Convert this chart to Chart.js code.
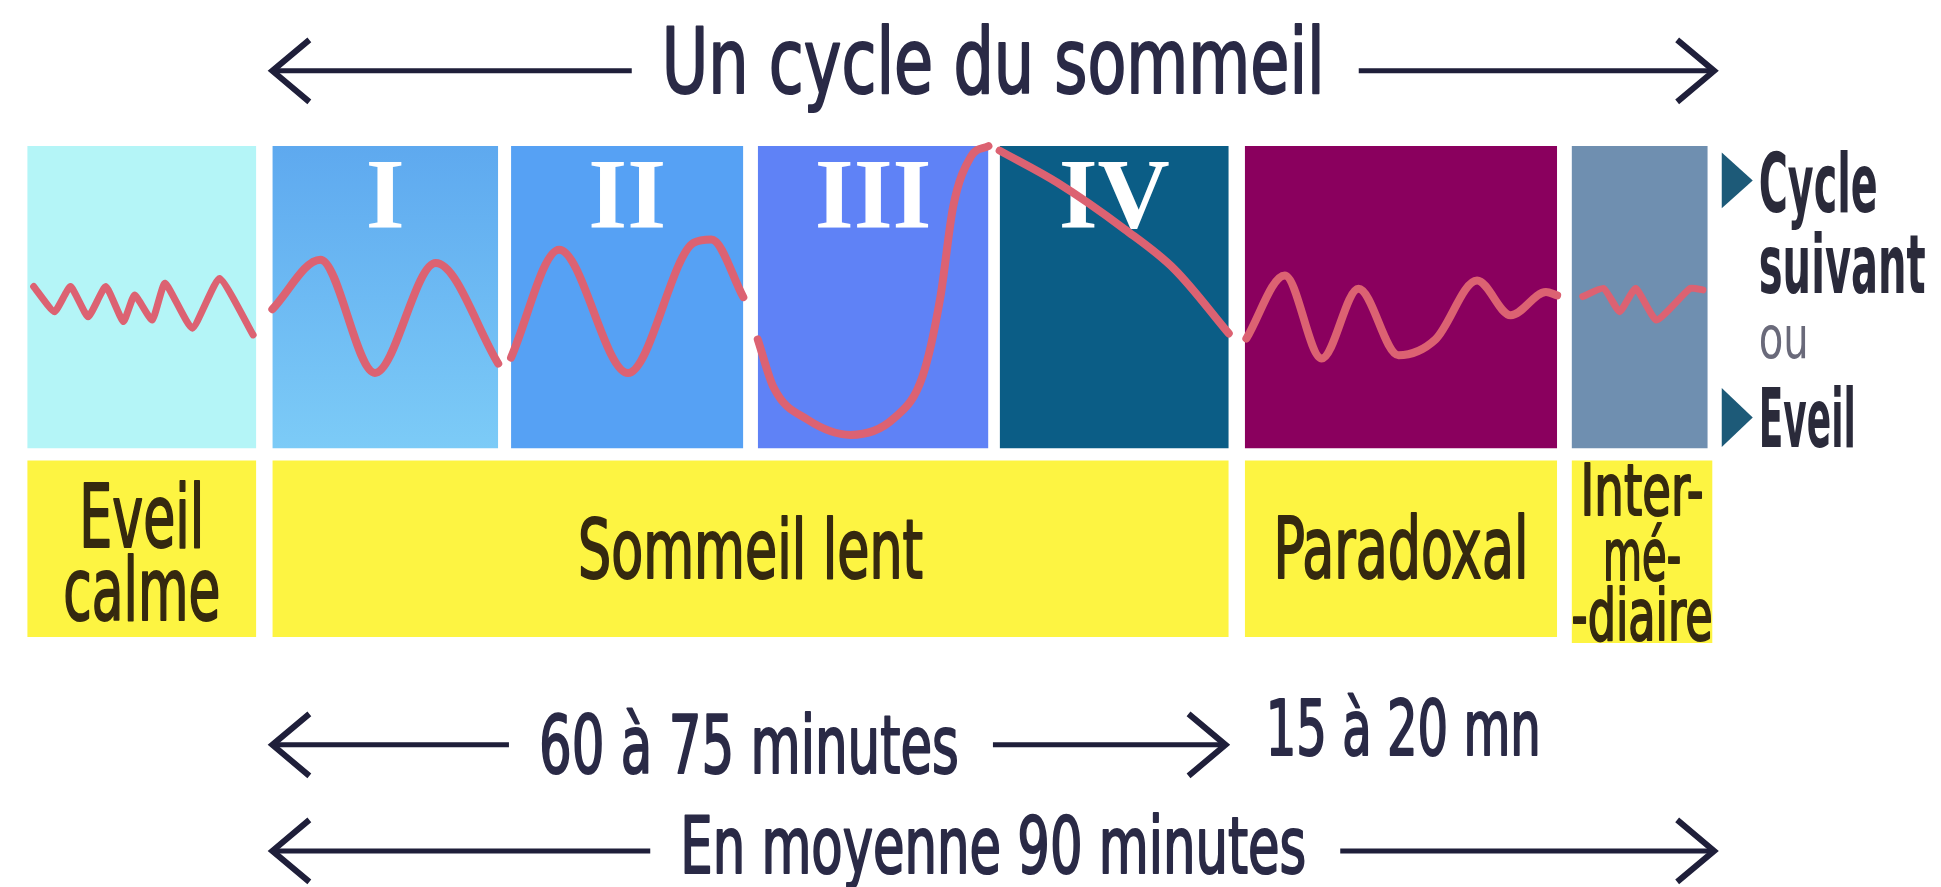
<!DOCTYPE html>
<html>
<head>
<meta charset="utf-8">
<script src="https://cdn.jsdelivr.net/npm/chart.js@4.4.1/dist/chart.umd.min.js"></script>
<style>
  html, body { margin: 0; padding: 0; background: #fff; }
  #wrap { width: 1941px; height: 887px; }
</style>
</head>
<body>
<div id="wrap"><canvas id="chart"></canvas></div>
<script>
// x = minutes (0 = start of the cycle), y = wave amplitude (0..100 inside the panels)
const stageNames = ['Eveil', 'I', 'II', 'III', 'IV', 'Paradoxal', 'Intermédiaire'];
const stageStart = [-15.3, 0, 14.9, 30.3, 45.4, 60.7, 81.1];
const stageEnd = [-1.0, 14.1, 29.4, 44.7, 59.7, 80.2, 89.6];
const stageNumerals = ['', 'I', 'II', 'III', 'IV', '', ''];

const phaseLabels = [['Eveil', 'calme'], ['Sommeil lent'], ['Paradoxal'], ['Inter-', 'mé-', '-diaire']];
const phaseStart = [-15.3, 0, 60.7, 81.1];
const phaseEnd = [-1.0, 59.7, 80.2, 89.9];

const spanLabels = ['Un cycle du sommeil', '60 à 75 minutes', 'En moyenne 90 minutes'];
const spanFrom = [0, 0, 0];
const spanTo = [90, 59.5, 90];
const remLabel = '15 à 20 mn';
const nextLabels = ['Cycle', 'suivant', 'ou', 'Eveil'];

// EEG-like trace, [minute, amplitude]
const waveEveil = [[-14.9, 53.5], [-13.6, 45.2], [-12.6, 53.5], [-11.5, 43.5], [-10.4, 53.5], [-9.3, 41.9],
  [-8.6, 50.7], [-7.5, 42.4], [-6.7, 54.6], [-5.0, 39.7], [-3.3, 56.2], [-1.2, 37.5]];
const waveI = [[0, 46], [3.0, 62.4], [6.4, 24.9], [10.2, 61.3], [14.1, 28]];
const waveII = [[14.9, 30], [17.9, 65.7], [22.2, 24.9], [26.3, 68], [27.4, 69.1], [29.4, 50]];
const waveIII = [[30.3, 36], [31.3, 20], [33.4, 9.5], [36.1, 4.4], [38.8, 9.9], [40.6, 24],
  [41.7, 50], [42.5, 80], [43.6, 96.5], [44.7, 100]];
const waveIV = [[45.4, 98.5], [49.0, 87.9], [53.2, 72.5], [56.3, 59.3], [59.7, 38]];
const wavePar = [[60.8, 36.3], [63.2, 57.2], [65.5, 29.7], [67.8, 52.8], [70.3, 30.8], [72.6, 36],
  [75.2, 55.5], [77.3, 44.0], [79.5, 51.7], [80.2, 50.6]];
const waveInter = [[81.8, 50.2], [83.1, 52.9], [84.1, 45.2], [85.1, 52.9], [86.4, 42.4], [88.5, 52.9], [89.3, 52.4]];

// styles and layout
const stageColors = ['#b4f5f7', '#68b6f2', '#56a1f4', '#5f82f6', '#0b5d86', '#8a005e', '#6f8fb0'];
const bandColor = '#fdf442';
const waveColor = '#dc6272';
const inkColor = '#2a2a46';
const bandInk = '#35290f';
const SANS = "'Liberation Sans Narrow', 'DejaVu Sans Condensed', 'Liberation Sans', sans-serif";
const SERIF = "'Liberation Serif', 'DejaVu Serif', serif";

const spanStyle = [
  { size: 90, width: 663, base: 117.6, arrowY: 124.9 },
  { size: 80, width: 420, base: -107.5, arrowY: -98.2 },
  { size: 78, width: 626, base: -140.6, arrowY: -133.3 }
];
const phaseStyle = [
  { size: 88, lines: [{ w: 125, base: -32.7 }, { w: 157, base: -56.9 }] },
  { size: 82, lines: [{ w: 345, base: -43 }] },
  { size: 86, lines: [{ w: 255, base: -43 }] },
  { size: 72, lines: [{ w: 123, base: -22.1 }, { w: 78, base: -43.6 }, { w: 141, base: -63.5 }] }
];
const nextStyle = [
  { size: 82, w: 119, base: 78.2, weight: 'bold', color: '#2a2a3a' },
  { size: 82, w: 167, base: 51.4, weight: 'bold', color: '#2a2a3a' },
  { size: 58, w: 50, base: 29.9, weight: 'normal', color: '#6a6a7a', thin: true },
  { size: 82, w: 97, base: 0.4, weight: 'bold', color: '#2a2a3a' }
];

function pts(arr) { return arr.map(p => ({ x: p[0], y: p[1] })); }

const datasets = [];
stageStart.forEach((s, i) => {
  datasets.push({
    label: stageNames[i],
    data: [{ x: s, y: 100 }, { x: stageEnd[i], y: 100 }],
    fill: { value: 0 },
    backgroundColor: i === 1 ? (c) => {
      const ca = c.chart.chartArea;
      if (!ca) return stageColors[i];
      const y = c.chart.scales.y;
      const g = c.chart.ctx.createLinearGradient(0, y.getPixelForValue(100), 0, y.getPixelForValue(0));
      g.addColorStop(0, '#5ea9ef');
      g.addColorStop(1, '#7ccbf7');
      return g;
    } : stageColors[i],
    borderWidth: 0, pointRadius: 0, tension: 0, order: 3
  });
});
phaseStart.forEach((s, i) => {
  datasets.push({
    label: phaseLabels[i].join(''),
    data: [{ x: s, y: -4.1 }, { x: phaseEnd[i], y: -4.1 }],
    fill: { value: i === 3 ? -64.5 : -62.5 },
    backgroundColor: bandColor,
    borderWidth: 0, pointRadius: 0, tension: 0, order: 3
  });
});
[waveEveil, waveI, waveII, waveIII, waveIV, wavePar, waveInter].forEach((w, i) => {
  const zig = i === 0 || i === 6;
  datasets.push({
    label: 'onde ' + stageNames[i],
    isWave: true,
    data: pts(w),
    borderColor: waveColor,
    borderWidth: zig ? 7 : 8,
    borderCapStyle: 'round',
    borderJoinStyle: 'round',
    pointRadius: 0,
    fill: false,
    tension: zig ? 0.15 : 0.4,
    cubicInterpolationMode: zig ? 'default' : 'monotone',
    order: 1
  });
});

function fitText(ctx, text, x, y, size, width, o) {
  ctx.save();
  ctx.font = (o.weight || 'normal') + ' ' + size + 'px ' + (o.family || SANS);
  const w = ctx.measureText(text).width;
  ctx.translate(x, y);
  ctx.scale(width / w, 1);
  ctx.fillStyle = o.color;
  ctx.strokeStyle = o.color;
  ctx.lineWidth = 2;
  ctx.lineJoin = 'round';
  ctx.textAlign = o.align || 'center';
  ctx.textBaseline = 'alphabetic';
  ctx.fillText(text, 0, 0);
  // thicken the regular weight a little, like the printed condensed face
  if (o.weight !== 'bold' && !o.thin) ctx.strokeText(text, 0, 0);
  ctx.restore();
}

function head(ctx, tipX, y, dir) {
  // dir -1 = pointing left, 1 = pointing right
  ctx.beginPath();
  ctx.moveTo(tipX - dir * 37, y - 31);
  ctx.lineTo(tipX, y);
  ctx.lineTo(tipX - dir * 37, y + 31);
  ctx.lineWidth = 6;
  ctx.stroke();
}

const cyclePlugin = {
  id: 'cycleText',
  beforeDatasetsDraw(chart) { chart.$numerals = false; },
  beforeDatasetDraw(chart, args) {
    const ds = chart.data.datasets[args.index];
    if (!ds.isWave || chart.$numerals) return;
    chart.$numerals = true;
    const { ctx, scales: { x, y } } = chart;
    ctx.save();
    ctx.font = 'bold 100px ' + SERIF;
    ctx.fillStyle = '#ffffff';
    ctx.textAlign = 'center';
    stageNumerals.forEach((n, i) => {
      if (!n) return;
      const cx = x.getPixelForValue((stageStart[i] + stageEnd[i]) / 2);
      ctx.fillText(n, cx, y.getPixelForValue(73.1));
    });
    ctx.restore();
  },
  afterDatasetsDraw(chart) {
    const { ctx, scales: { x, y } } = chart;
    ctx.save();
    ctx.strokeStyle = '#1f1f3a';
    ctx.lineCap = 'butt';
    ctx.lineJoin = 'miter';
    // span arrows with their labels
    spanLabels.forEach((t, i) => {
      const st = spanStyle[i];
      const x0 = x.getPixelForValue(spanFrom[i]);
      const x1 = x.getPixelForValue(spanTo[i]);
      const cx = (x0 + x1) / 2;
      const ay = y.getPixelForValue(st.arrowY);
      fitText(ctx, t, cx, y.getPixelForValue(st.base), st.size, st.width, { color: inkColor });
      ctx.lineWidth = 5;
      ctx.beginPath();
      ctx.moveTo(x0 + 2, ay); ctx.lineTo(cx - st.width / 2 - 30, ay);
      ctx.moveTo(cx + st.width / 2 + 34, ay); ctx.lineTo(x1 - 2, ay);
      ctx.stroke();
      head(ctx, x0, ay, -1);
      head(ctx, x1, ay, 1);
    });
    fitText(ctx, remLabel, x.getPixelForValue(phaseStart[2]) + 21, y.getPixelForValue(-101.5), 76, 275,
      { color: inkColor, align: 'left' });
    // labels in the yellow bands
    phaseLabels.forEach((lines, i) => {
      const cx = x.getPixelForValue((phaseStart[i] + phaseEnd[i]) / 2);
      lines.forEach((t, j) => {
        const l = phaseStyle[i].lines[j];
        fitText(ctx, t, cx, y.getPixelForValue(l.base), phaseStyle[i].size, l.w, { color: bandInk });
      });
    });
    // next-step labels on the right
    const rx = x.getPixelForValue(stageEnd[6]);
    ctx.fillStyle = '#1d5a78';
    [[97.9, 79.4], [19.9, 0.4]].forEach(([top, bot]) => {
      const t = y.getPixelForValue(top), b = y.getPixelForValue(bot);
      ctx.beginPath();
      ctx.moveTo(rx + 14, t); ctx.lineTo(rx + 45, (t + b) / 2); ctx.lineTo(rx + 14, b);
      ctx.closePath();
      ctx.fill();
    });
    nextLabels.forEach((t, i) => {
      const s = nextStyle[i];
      fitText(ctx, t, rx + 51, y.getPixelForValue(s.base), s.size, s.w,
        { color: s.color, weight: s.weight, align: 'left', thin: s.thin });
    });
    ctx.restore();
  }
};

new Chart(document.getElementById('chart').getContext('2d'), {
  type: 'line',
  data: { datasets: datasets },
  options: {
    responsive: true,
    maintainAspectRatio: false,
    animation: false,
    events: [],
    layout: { padding: 0 },
    scales: {
      x: { type: 'linear', min: -17.0, max: 104.16, display: false },
      y: { type: 'linear', min: -145.25, max: 148.36, display: false }
    },
    plugins: { legend: { display: false }, tooltip: { enabled: false } }
  },
  plugins: [cyclePlugin]
});
</script>
</body>
</html>
